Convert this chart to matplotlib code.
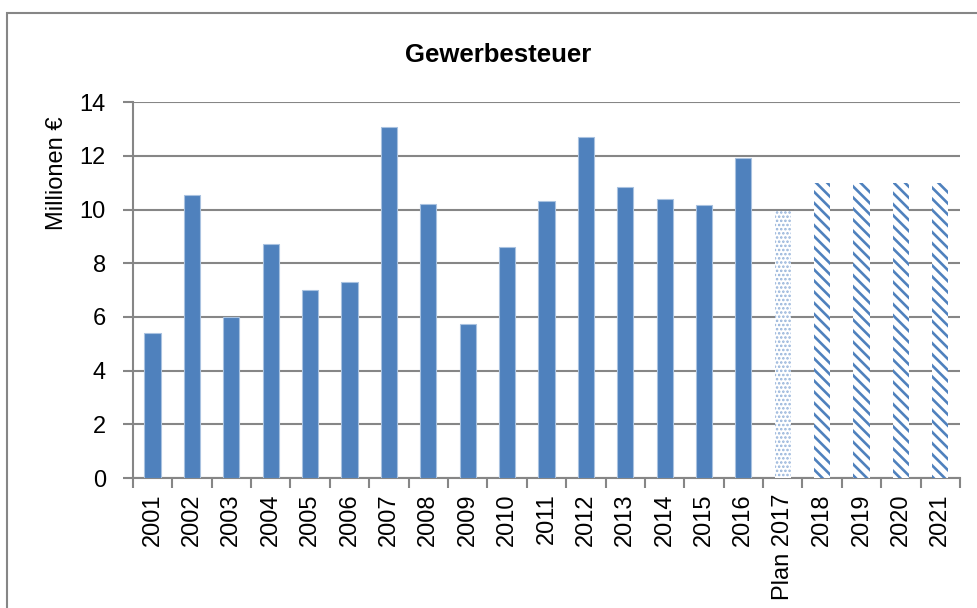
import matplotlib.pyplot as plt
import matplotlib as mpl
from matplotlib.patches import Rectangle

# Daten (Millionen €)
jahre = ["2001", "2002", "2003", "2004", "2005", "2006", "2007", "2008",
         "2009", "2010", "2011", "2012", "2013", "2014", "2015", "2016"]
ist_werte = [5.41, 10.55, 6.0, 8.71, 7.0, 7.3, 13.06, 10.19,
             5.73, 8.6, 10.3, 12.71, 10.85, 10.4, 10.16, 11.91]
plan_label = ["Plan 2017"]
plan_wert = [9.94]
prognose_jahre = ["2018", "2019", "2020", "2021"]
prognose_werte = [11.0, 11.0, 11.0, 11.0]

labels = jahre + plan_label + prognose_jahre
blau = "#4F81BD"

plt.rcParams['font.family'] = ['Liberation Sans', 'DejaVu Sans']

fig = plt.figure(figsize=(9.77, 6.08), dpi=100)
ax = fig.add_axes([0.136, 0.2138, 0.8466, 0.6182])

# Rahmen um das Diagramm
rahmen = Rectangle((7 / 977, -0.5), 2.0, 1.5 - 13 / 608, transform=fig.transFigure,
                   fill=False, edgecolor="#868686", linewidth=1.5, clip_on=False)
fig.patches.append(rahmen)

x_ist = list(range(len(jahre)))
x_plan = [len(jahre)]
x_prog = [len(jahre) + 1 + i for i in range(len(prognose_jahre))]
breite = 0.41

ax.bar(x_ist, ist_werte, width=breite, color=blau, edgecolor="#A9C2E0",
       linewidth=0.8, zorder=3)

with mpl.rc_context({'hatch.linewidth': 1.2}):
    ax.bar(x_plan, plan_wert, width=breite, color="white", edgecolor="#95B3DA",
           hatch="....", linewidth=0, zorder=3)

with mpl.rc_context({'hatch.linewidth': 1.9}):
    ax.bar(x_prog, prognose_werte, width=breite, color="white", edgecolor=blau,
           hatch="\\\\\\", linewidth=0, zorder=3)

ax.set_xlim(-0.5, len(labels) - 0.5)
ax.set_ylim(0, 14)
ax.set_yticks(range(0, 15, 2))
ax.grid(axis="y", color="#868686", linewidth=1.5, zorder=0)

ax.set_xticks(range(len(labels)))
ax.set_xticklabels(labels, rotation=90, fontsize=17)
ax.set_xticks([i - 0.5 for i in range(len(labels) + 1)], minor=True)
ax.tick_params(axis="x", which="major", length=0, pad=11)
ax.tick_params(axis="x", which="minor", length=7.5, width=1.5, color="#868686")
ax.tick_params(axis="y", length=7.5, width=1.5, color="#868686", labelsize=17, pad=12)

for seite in ["top", "right"]:
    ax.spines[seite].set_visible(False)
for seite in ["left", "bottom"]:
    ax.spines[seite].set_color("#868686")
    ax.spines[seite].set_linewidth(1.5)

# Achsentitel wie in Excel oberhalb der Mitte
fig.text(57 / 977, 1 - 173 / 608, "Millionen €", rotation=90, ha="center",
         va="center", fontsize=17)
fig.text(0.51, 1 - 55 / 608, "Gewerbesteuer", ha="center", va="center",
         fontsize=18.5, fontweight="bold")

plt.savefig("out.png", dpi=100)
